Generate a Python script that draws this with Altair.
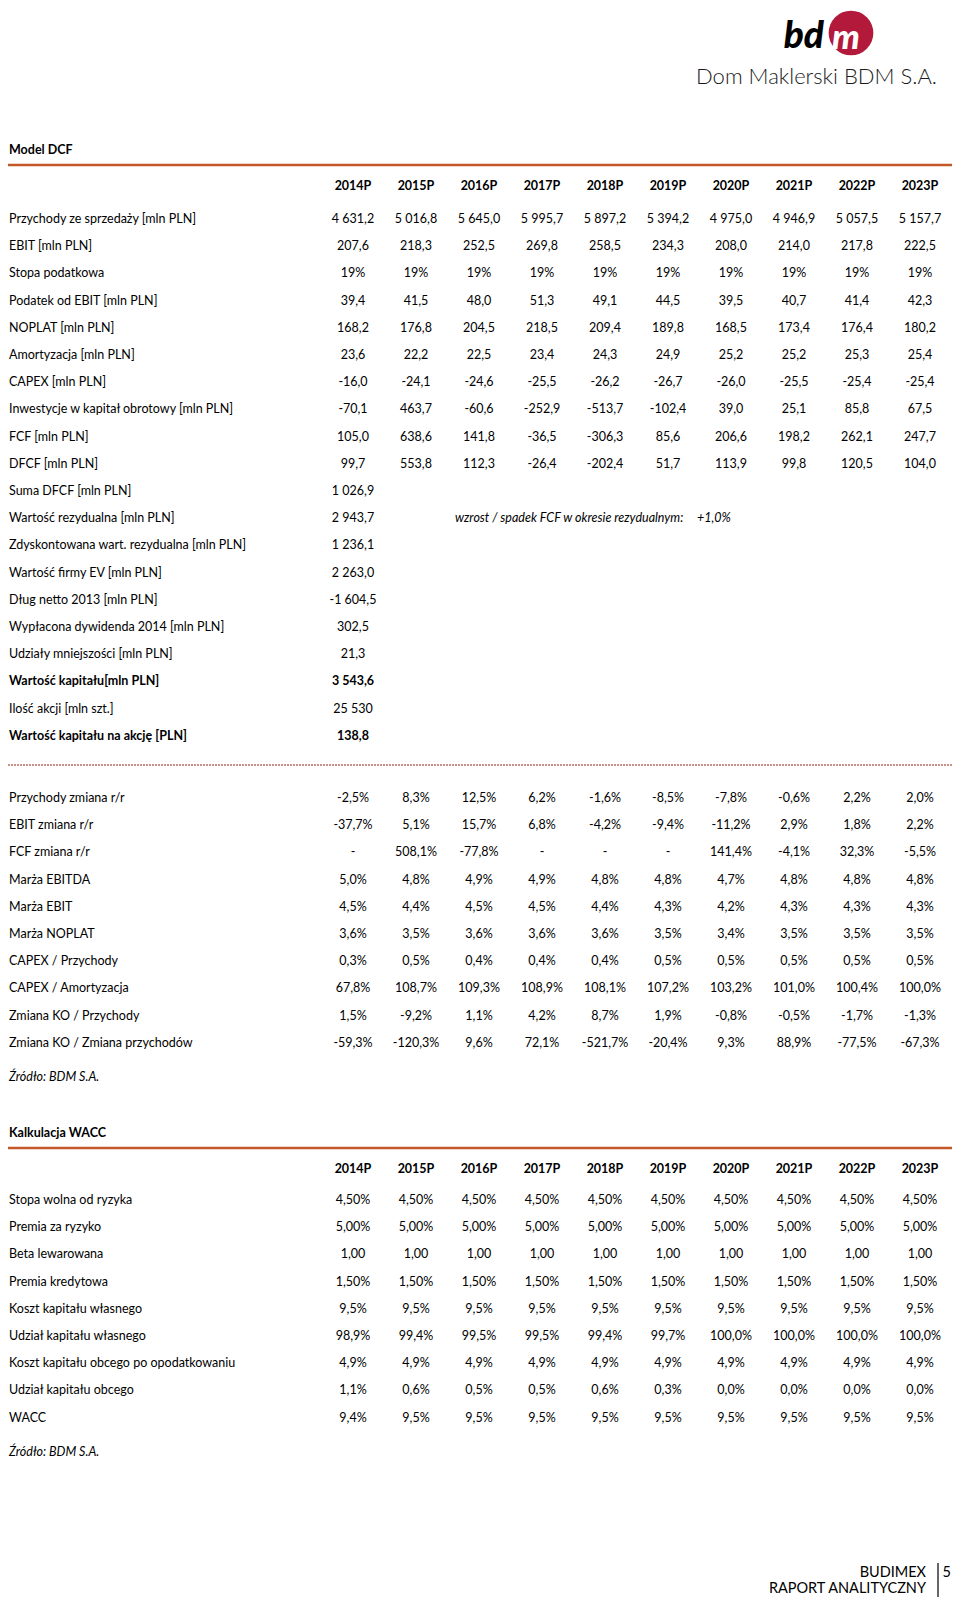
import altair as alt
import pandas as pd

# ---------------- DATA ----------------
years = ["2014P", "2015P", "2016P", "2017P", "2018P", "2019P", "2020P", "2021P", "2022P", "2023P"]

# Model DCF - yearly rows
przychody = [4631.2, 5016.8, 5645.0, 5995.7, 5897.2, 5394.2, 4975.0, 4946.9, 5057.5, 5157.7]
ebit = [207.6, 218.3, 252.5, 269.8, 258.5, 234.3, 208.0, 214.0, 217.8, 222.5]
stopa_podatkowa = [19, 19, 19, 19, 19, 19, 19, 19, 19, 19]
podatek_ebit = [39.4, 41.5, 48.0, 51.3, 49.1, 44.5, 39.5, 40.7, 41.4, 42.3]
noplat = [168.2, 176.8, 204.5, 218.5, 209.4, 189.8, 168.5, 173.4, 176.4, 180.2]
amortyzacja = [23.6, 22.2, 22.5, 23.4, 24.3, 24.9, 25.2, 25.2, 25.3, 25.4]
capex = [-16.0, -24.1, -24.6, -25.5, -26.2, -26.7, -26.0, -25.5, -25.4, -25.4]
inwestycje_ko = [-70.1, 463.7, -60.6, -252.9, -513.7, -102.4, 39.0, 25.1, 85.8, 67.5]
fcf = [105.0, 638.6, 141.8, -36.5, -306.3, 85.6, 206.6, 198.2, 262.1, 247.7]
dfcf = [99.7, 553.8, 112.3, -26.4, -202.4, 51.7, 113.9, 99.8, 120.5, 104.0]

# Model DCF - single values
suma_dfcf = 1026.9
wartosc_rezydualna = 2943.7
wzrost_rezydualny = 1.0
zdyskontowana_wr = 1236.1
wartosc_ev = 2263.0
dlug_netto = -1604.5
dywidenda = 302.5
udzialy_mniejszosci = 21.3
wartosc_kapitalu = 3543.6
ilosc_akcji = 25530
wartosc_na_akcje = 138.8

# Ratios (in %)
przychody_rr = [-2.5, 8.3, 12.5, 6.2, -1.6, -8.5, -7.8, -0.6, 2.2, 2.0]
ebit_rr = [-37.7, 5.1, 15.7, 6.8, -4.2, -9.4, -11.2, 2.9, 1.8, 2.2]
fcf_rr = [None, 508.1, -77.8, None, None, None, 141.4, -4.1, 32.3, -5.5]
marza_ebitda = [5.0, 4.8, 4.9, 4.9, 4.8, 4.8, 4.7, 4.8, 4.8, 4.8]
marza_ebit = [4.5, 4.4, 4.5, 4.5, 4.4, 4.3, 4.2, 4.3, 4.3, 4.3]
marza_noplat = [3.6, 3.5, 3.6, 3.6, 3.6, 3.5, 3.4, 3.5, 3.5, 3.5]
capex_przychody = [0.3, 0.5, 0.4, 0.4, 0.4, 0.5, 0.5, 0.5, 0.5, 0.5]
capex_amortyzacja = [67.8, 108.7, 109.3, 108.9, 108.1, 107.2, 103.2, 101.0, 100.4, 100.0]
zmiana_ko_przychody = [1.5, -9.2, 1.1, 4.2, 8.7, 1.9, -0.8, -0.5, -1.7, -1.3]
zmiana_ko_zmiana_przych = [-59.3, -120.3, 9.6, 72.1, -521.7, -20.4, 9.3, 88.9, -77.5, -67.3]

# WACC
stopa_wolna = [4.50, 4.50, 4.50, 4.50, 4.50, 4.50, 4.50, 4.50, 4.50, 4.50]
premia_ryzyko = [5.00, 5.00, 5.00, 5.00, 5.00, 5.00, 5.00, 5.00, 5.00, 5.00]
beta = [1.00, 1.00, 1.00, 1.00, 1.00, 1.00, 1.00, 1.00, 1.00, 1.00]
premia_kredytowa = [1.50, 1.50, 1.50, 1.50, 1.50, 1.50, 1.50, 1.50, 1.50, 1.50]
koszt_wlasny = [9.5, 9.5, 9.5, 9.5, 9.5, 9.5, 9.5, 9.5, 9.5, 9.5]
udzial_wlasny = [98.9, 99.4, 99.5, 99.5, 99.4, 99.7, 100.0, 100.0, 100.0, 100.0]
koszt_obcy = [4.9, 4.9, 4.9, 4.9, 4.9, 4.9, 4.9, 4.9, 4.9, 4.9]
udzial_obcy = [1.1, 0.6, 0.5, 0.5, 0.6, 0.3, 0.0, 0.0, 0.0, 0.0]
wacc = [9.4, 9.5, 9.5, 9.5, 9.5, 9.5, 9.5, 9.5, 9.5, 9.5]


def fmt(v, dec=1, pct=False):
    if v is None:
        return "-"
    s = f"{abs(v):,.{dec}f}".replace(",", " ").replace(".", ",")
    if v < 0:
        s = "-" + s
    return s + ("%" if pct else "")


dcf_rows = [
    ("Przychody ze sprzedaży [mln PLN]", przychody, 1, False, False),
    ("EBIT [mln PLN]", ebit, 1, False, False),
    ("Stopa podatkowa", stopa_podatkowa, 0, True, False),
    ("Podatek od EBIT [mln PLN]", podatek_ebit, 1, False, False),
    ("NOPLAT [mln PLN]", noplat, 1, False, False),
    ("Amortyzacja [mln PLN]", amortyzacja, 1, False, False),
    ("CAPEX [mln PLN]", capex, 1, False, False),
    ("Inwestycje w kapitał obrotowy [mln PLN]", inwestycje_ko, 1, False, False),
    ("FCF [mln PLN]", fcf, 1, False, False),
    ("DFCF [mln PLN]", dfcf, 1, False, False),
    ("Suma DFCF [mln PLN]", [suma_dfcf], 1, False, False),
    ("Wartość rezydualna [mln PLN]", [wartosc_rezydualna], 1, False, False),
    ("Zdyskontowana wart. rezydualna [mln PLN]", [zdyskontowana_wr], 1, False, False),
    ("Wartość firmy EV [mln PLN]", [wartosc_ev], 1, False, False),
    ("Dług netto 2013 [mln PLN]", [dlug_netto], 1, False, False),
    ("Wypłacona dywidenda 2014 [mln PLN]", [dywidenda], 1, False, False),
    ("Udziały mniejszości [mln PLN]", [udzialy_mniejszosci], 1, False, False),
    ("Wartość kapitału[mln PLN]", [wartosc_kapitalu], 1, False, True),
    ("Ilość akcji [mln szt.]", [ilosc_akcji], 0, False, False),
    ("Wartość kapitału na akcję [PLN]", [wartosc_na_akcje], 1, False, True),
]

ratio_rows = [
    ("Przychody zmiana r/r", przychody_rr),
    ("EBIT zmiana r/r", ebit_rr),
    ("FCF zmiana r/r", fcf_rr),
    ("Marża EBITDA", marza_ebitda),
    ("Marża EBIT", marza_ebit),
    ("Marża NOPLAT", marza_noplat),
    ("CAPEX / Przychody", capex_przychody),
    ("CAPEX / Amortyzacja", capex_amortyzacja),
    ("Zmiana KO / Przychody", zmiana_ko_przychody),
    ("Zmiana KO / Zmiana przychodów", zmiana_ko_zmiana_przych),
]

wacc_rows = [
    ("Stopa wolna od ryzyka", stopa_wolna, 2, True),
    ("Premia za ryzyko", premia_ryzyko, 2, True),
    ("Beta lewarowana", beta, 2, False),
    ("Premia kredytowa", premia_kredytowa, 2, True),
    ("Koszt kapitału własnego", koszt_wlasny, 1, True),
    ("Udział kapitału własnego", udzial_wlasny, 1, True),
    ("Koszt kapitału obcego po opodatkowaniu", koszt_obcy, 1, True),
    ("Udział kapitału obcego", udzial_obcy, 1, True),
    ("WACC", wacc, 1, True),
]

# ---------------- LAYOUT ----------------
LABEL_X = 9
COL0 = 353
COL_STEP = 63
ROW_STEP = 27.2
FS = 12.5
TITLE1_Y, RULE1_Y, HEAD1_Y, ROWS1_Y = 150, 165, 186, 219
DASH_Y, ROWS2_Y, SRC1_Y = 765, 798, 1077
TITLE2_Y, RULE2_Y, HEAD2_Y, ROWS3_Y, SRC2_Y = 1133, 1148, 1169, 1200, 1452

labels, labels_b, cells, cells_b, italics = [], [], [], [], []

for i, y in enumerate(years):
    cells_b.append({"x": COL0 + i * COL_STEP, "y": HEAD1_Y, "text": y})
    cells_b.append({"x": COL0 + i * COL_STEP, "y": HEAD2_Y, "text": y})

for r, (lab, vals, dec, pct, bold) in enumerate(dcf_rows):
    yy = ROWS1_Y + r * ROW_STEP
    (labels_b if bold else labels).append({"x": LABEL_X, "y": yy, "text": lab})
    for i, v in enumerate(vals):
        (cells_b if bold else cells).append({"x": COL0 + i * COL_STEP, "y": yy, "text": fmt(v, dec, pct)})

for r, (lab, vals) in enumerate(ratio_rows):
    yy = ROWS2_Y + r * ROW_STEP
    labels.append({"x": LABEL_X, "y": yy, "text": lab})
    for i, v in enumerate(vals):
        cells.append({"x": COL0 + i * COL_STEP, "y": yy, "text": fmt(v, 1, True)})

for r, (lab, vals, dec, pct) in enumerate(wacc_rows):
    yy = ROWS3_Y + r * ROW_STEP
    labels.append({"x": LABEL_X, "y": yy, "text": lab})
    for i, v in enumerate(vals):
        cells.append({"x": COL0 + i * COL_STEP, "y": yy, "text": fmt(v, dec, pct)})

labels_b.append({"x": LABEL_X, "y": TITLE1_Y, "text": "Model DCF"})
labels_b.append({"x": LABEL_X, "y": TITLE2_Y, "text": "Kalkulacja WACC"})

note_y = ROWS1_Y + 11 * ROW_STEP
italics.append({"x": 455, "y": note_y, "text": "wzrost / spadek FCF w okresie rezydualnym:"})
italics.append({"x": 697, "y": note_y, "text": "+" + fmt(wzrost_rezydualny, 1, True)})
italics.append({"x": LABEL_X, "y": SRC1_Y, "text": "Źródło: BDM S.A."})
italics.append({"x": LABEL_X, "y": SRC2_Y, "text": "Źródło: BDM S.A."})

footer_r = [
    {"x": 926, "y": 1573, "text": "BUDIMEX"},
    {"x": 926, "y": 1589, "text": "RAPORT ANALITYCZNY"},
]
footer_num = [{"x": 951, "y": 1573, "text": "5"}]

XS = alt.Scale(domain=[8, 952], nice=False, zero=False)
YS = alt.Scale(domain=[8, 1598], nice=False, zero=False, reverse=True)
FONT = "Lato"


def text_layer(rows, align="center", weight="normal", style="normal", size=FS, color="#000000", font=FONT, baseline="middle"):
    return alt.Chart(pd.DataFrame(rows)).mark_text(
        align=align, baseline=baseline, fontWeight=weight, fontStyle=style,
        fontSize=size, font=font, color=color
    ).encode(
        x=alt.X("x:Q", scale=XS, axis=None),
        y=alt.Y("y:Q", scale=YS, axis=None),
        text="text:N",
    )


def rule_layer(rows, color, width, dash=None):
    kw = dict(color=color, strokeWidth=width)
    if dash:
        kw["strokeDash"] = dash
    return alt.Chart(pd.DataFrame(rows)).mark_rule(**kw).encode(
        x=alt.X("x:Q", scale=XS, axis=None),
        x2="x2:Q",
        y=alt.Y("y:Q", scale=YS, axis=None),
        y2="y2:Q",
    )


orange_rules = rule_layer(
    [{"x": 8, "x2": 952, "y": RULE1_Y, "y2": RULE1_Y}, {"x": 8, "x2": 952, "y": RULE2_Y, "y2": RULE2_Y}],
    "#c4572a", 2.5)
dash_rule = rule_layer([{"x": 8, "x2": 952, "y": DASH_Y, "y2": DASH_Y}], "#c98f88", 2, [2, 1])
footer_bar = rule_layer([{"x": 938, "x2": 938, "y": 1563, "y2": 1597}], "#000000", 1.2)

logo_circle = alt.Chart(pd.DataFrame([{"x": 851, "y": 33}])).mark_circle(
    size=2000, color="#b3193a", opacity=1
).encode(x=alt.X("x:Q", scale=XS, axis=None), y=alt.Y("y:Q", scale=YS, axis=None))

logo_bd = text_layer([{"x": 824, "y": 48, "text": "bd"}], align="right", weight=900, style="italic",
                     size=37, baseline="alphabetic")
logo_m = text_layer([{"x": 846, "y": 49, "text": "m"}], align="center", weight=900, style="italic",
                    size=35, color="#ffffff", baseline="alphabetic")
logo_name = text_layer([{"x": 937, "y": 77, "text": "Dom Maklerski BDM S.A."}], align="right",
                       weight=300, size=22, color="#1a1a1a")

chart = alt.layer(
    orange_rules,
    dash_rule,
    footer_bar,
    text_layer(labels, align="left"),
    text_layer(labels_b, align="left", weight="bold"),
    text_layer(cells),
    text_layer(cells_b, weight="bold"),
    text_layer(italics, align="left", style="italic"),
    text_layer(footer_r, align="right", size=14.5),
    text_layer(footer_num, align="right", size=14.5),
    logo_circle,
    logo_bd,
    logo_m,
    logo_name,
).properties(
    width=944, height=1590, padding=0, autosize="none"
).configure_view(stroke=None)

chart.save("out.html", embed_options={"renderer": "svg", "actions": False})
